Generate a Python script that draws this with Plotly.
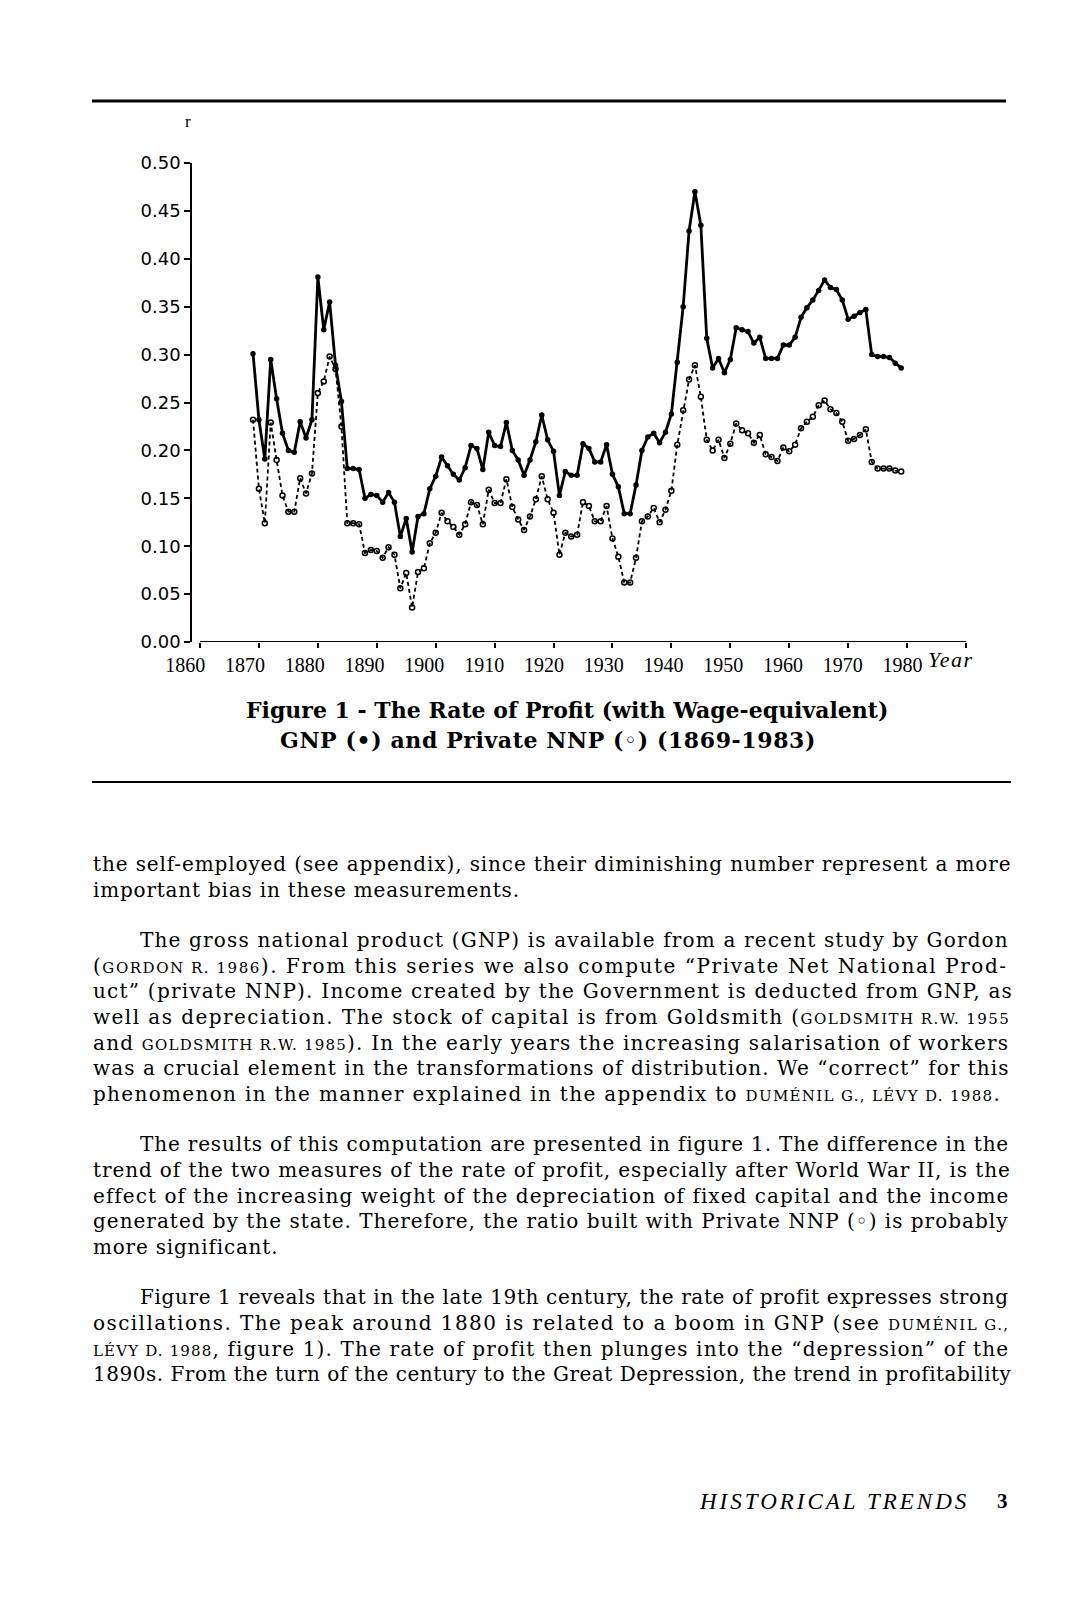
import plotly.graph_objects as go

# ---------------- data ----------------
years = list(range(1869, 1980))

gnp = [0.301, 0.232, 0.191, 0.295, 0.254, 0.218, 0.200, 0.198, 0.230, 0.213,
       0.232, 0.381, 0.326, 0.355, 0.289, 0.251, 0.181, 0.181, 0.180, 0.150,
       0.154, 0.153, 0.146, 0.156, 0.146, 0.110, 0.129, 0.094, 0.131, 0.134,
       0.160, 0.173, 0.193, 0.184, 0.175, 0.169, 0.182, 0.205, 0.202, 0.180,
       0.219, 0.205, 0.204, 0.229, 0.200, 0.190, 0.174, 0.190, 0.209, 0.237,
       0.211, 0.199, 0.153, 0.178, 0.174, 0.174, 0.207, 0.202, 0.188, 0.188,
       0.206, 0.175, 0.162, 0.134, 0.134, 0.164, 0.200, 0.214, 0.218, 0.208,
       0.219, 0.238, 0.292, 0.350, 0.429, 0.470, 0.435, 0.317, 0.286, 0.296,
       0.281, 0.295, 0.328, 0.326, 0.324, 0.312, 0.318, 0.296, 0.296, 0.296,
       0.310, 0.310, 0.318, 0.339, 0.349, 0.357, 0.367, 0.378, 0.370, 0.368,
       0.357, 0.337, 0.340, 0.344, 0.347, 0.300, 0.298, 0.298, 0.297, 0.291,
       0.286]

nnp = [0.232, 0.160, 0.124, 0.229, 0.190, 0.153, 0.136, 0.136, 0.171, 0.155,
       0.176, 0.260, 0.272, 0.298, 0.285, 0.225, 0.124, 0.124, 0.123, 0.093,
       0.096, 0.095, 0.088, 0.099, 0.091, 0.056, 0.072, 0.036, 0.073, 0.077,
       0.103, 0.114, 0.135, 0.126, 0.120, 0.112, 0.123, 0.146, 0.143, 0.123,
       0.159, 0.145, 0.145, 0.170, 0.141, 0.128, 0.117, 0.131, 0.149, 0.173,
       0.149, 0.135, 0.091, 0.114, 0.110, 0.112, 0.146, 0.142, 0.126, 0.126,
       0.142, 0.108, 0.089, 0.062, 0.062, 0.088, 0.126, 0.131, 0.140, 0.125,
       0.138, 0.158, 0.206, 0.242, 0.274, 0.289, 0.256, 0.211, 0.200, 0.211,
       0.192, 0.207, 0.228, 0.221, 0.218, 0.208, 0.216, 0.196, 0.193, 0.189,
       0.203, 0.199, 0.206, 0.223, 0.230, 0.235, 0.247, 0.252, 0.243, 0.239,
       0.230, 0.210, 0.212, 0.216, 0.222, 0.188, 0.181, 0.181, 0.181, 0.179,
       0.178]

x_tick_vals = [1860, 1870, 1880, 1890, 1900, 1910, 1920, 1930, 1940, 1950,
               1960, 1970, 1980, 1990]
x_label_vals = [1860, 1870, 1880, 1890, 1900, 1910, 1920, 1930, 1940, 1950,
                1960, 1970, 1980]
x_label_text = ["1860", "1870", "1880", "1890", "1900", "1910", "1920", "1930",
                "1940", "1950", "1960", "1970", "1980"]
y_tick_vals = [0.00, 0.05, 0.10, 0.15, 0.20, 0.25, 0.30, 0.35, 0.40, 0.45, 0.50]
y_tick_text = ["0.00", "0.05", "0.10", "0.15", "0.20", "0.25", "0.30", "0.35",
               "0.40", "0.45", "0.50"]

caption_lines = ["<b>Figure 1 - The Rate of Profit (with Wage-equivalent)</b>",
                 "<b>GNP (•) and Private NNP (◦) (1869-1983)</b>"]

SC = "<span style='font-size:15px'>"
# (indent, new paragraph, letter spacing px, text)
body_lines = [
    (False, False, 0.88, "the self-employed (see appendix), since their diminishing number represent a more"),
    (False, False, 0.80, "important bias in these measurements."),
    (True,  True,  1.17, "The gross national product (GNP) is available from a recent study by Gordon"),
    (False, False, 1.55, "(" + SC + "GORDON R. 1986</span>). From this series we also compute “Private Net National Prod-"),
    (False, False, 1.23, "uct” (private NNP). Income created by the Government is deducted from GNP, as"),
    (False, False, 1.45, "well as depreciation. The stock of capital is from Goldsmith (" + SC + "GOLDSMITH R.W. 1955</span>"),
    (False, False, 1.21, "and " + SC + "GOLDSMITH R.W. 1985</span>). In the early years the increasing salarisation of workers"),
    (False, False, 1.06, "was a crucial element in the transformations of distribution. We “correct” for this"),
    (False, False, 1.32, "phenomenon in the manner explained in the appendix to " + SC + "DUMÉNIL G., LÉVY D. 1988</span>."),
    (True,  True,  0.84, "The results of this computation are presented in figure 1. The difference in the"),
    (False, False, 0.90, "trend of the two measures of the rate of profit, especially after World War II, is the"),
    (False, False, 1.05, "effect of the increasing weight of the depreciation of fixed capital and the income"),
    (False, False, 1.00, "generated by the state. Therefore, the ratio built with Private NNP (◦) is probably"),
    (False, False, 0.80, "more significant."),
    (True,  True,  0.63, "Figure 1 reveals that in the late 19th century, the rate of profit expresses strong"),
    (False, False, 1.43, "oscillations. The peak around 1880 is related to a boom in GNP (see " + SC + "DUMÉNIL G.,</span>"),
    (False, False, 1.15, SC + "LÉVY D. 1988</span>, figure 1). The rate of profit then plunges into the “depression” of the"),
    (False, False, 0.51, "1890s. From the turn of the century to the Great Depression, the trend in profitability"),
]

# ---------------- geometry ----------------
OFF = 8                       # browser body margin
FIG_W, FIG_H = 1064, 1592
ML, MR, MT, MB = 150, 106, 155, 958
PW = FIG_W - ML - MR
PH = FIG_H - MT - MB
AX_L = 184                    # y axis position (figure px)
D0 = (AX_L - ML) / PW
X0 = 1860 - 8 / 5.892
# tick-label axis (own domain): 1860 label at fig 177.3, 1980 label at fig 894.5
LA, LB = 177.3, 894.5
LSC = (LB - LA) / 120
L0 = 1860 - (LA - ML) / LSC
L1 = 1980 + (FIG_W - MR - LB) / LSC


def pp(x, y):
    """page pixel -> paper coords"""
    fx, fy = x - OFF, y - OFF
    return (fx - ML) / PW, (FIG_H - MB - fy) / PH


fig = go.Figure()
fig.add_trace(go.Scatter(
    x=years, y=nnp, mode="lines+markers",
    line=dict(color="black", width=1.8, dash="4px,3px"),
    marker=dict(symbol="circle-open", size=5, color="black", line=dict(width=1.5)),
    name="Private NNP", cliponaxis=False))
fig.add_trace(go.Scatter(
    x=years, y=gnp, mode="lines+markers",
    line=dict(color="black", width=2.8),
    marker=dict(symbol="circle", size=5.5, color="black"),
    name="GNP", cliponaxis=False))
# empty trace that attaches the tick-label axis (draws nothing)
fig.add_trace(go.Scatter(
    x=x_label_vals, y=[None] * len(x_label_vals), xaxis="x2", yaxis="y",
    mode="markers", hoverinfo="skip", showlegend=False))

fig.update_layout(
    width=FIG_W, height=FIG_H, autosize=False,
    margin=dict(l=ML, r=MR, t=MT, b=MB, pad=0),
    paper_bgcolor="white", plot_bgcolor="rgba(0,0,0,0)", showlegend=False,
    xaxis=dict(domain=[D0, 1], range=[X0, 1990], tickvals=x_tick_vals,
               showticklabels=False,
               ticks="outside", ticklen=5, tickwidth=1.5, tickcolor="black",
               showgrid=False, zeroline=False, showline=False),
    xaxis2=dict(domain=[0, 1], range=[L0, L1], anchor="y",
                side="bottom", tickvals=x_label_vals, ticktext=x_label_text,
                ticks="outside", ticklen=5, tickcolor="rgba(0,0,0,0)",
                showgrid=False, zeroline=False, showline=False,
                tickfont=dict(family="Liberation Serif", size=20, color="black")),
    yaxis=dict(range=[0, 0.5], tickvals=y_tick_vals, ticktext=y_tick_text,
               anchor="x",
               ticks="outside", ticklen=6, tickwidth=1.5, tickcolor="black",
               showgrid=False, zeroline=False, showline=True, linewidth=1.5,
               linecolor="black",
               tickfont=dict(family="DejaVu Sans", size=18, color="black")),
)

# x axis line
fig.add_shape(type="line", xref="x", yref="y", x0=1860, x1=1990, y0=0, y1=0,
              line=dict(color="black", width=2))

# horizontal rules
for (xa, xb, yy, w) in [(92, 1006, 101, 3), (92, 1011, 782, 2)]:
    a = pp(xa, yy)
    b = pp(xb, yy)
    fig.add_shape(type="line", xref="paper", yref="paper",
                  x0=a[0], x1=b[0], y0=a[1], y1=b[1],
                  line=dict(color="black", width=w))


def ann(text, x, y, size, family, xanchor="left"):
    px_, py_ = pp(x, y)
    fig.add_annotation(text=text, x=px_, y=py_, xref="paper", yref="paper",
                       xanchor=xanchor, yanchor="middle", showarrow=False,
                       font=dict(family=family, size=size, color="black"))


ann("r", 183, 121, 17, "Liberation Serif")
ann("<span style='letter-spacing:1.5px'><i>Year</i></span>", 926, 659, 22, "Liberation Serif")
ann(caption_lines[0], 567, 710, 22, "DejaVu Serif", xanchor="center")
ann("<span style='letter-spacing:0.6px'>" + caption_lines[1] + "</span>", 548, 740, 22,
    "DejaVu Serif", xanchor="center")

y = 864.0
for i, (indent, newpar, ls, txt) in enumerate(body_lines):
    if i > 0:
        y += 25.7 + (24.5 if newpar else 0)
    ann("<span style='letter-spacing:%.2fpx'>" % ls + txt + "</span>",
        138 if indent else 91, y, 20, "DejaVu Serif")

ann("<span style='letter-spacing:3px'><i>HISTORICAL TRENDS</i></span>", 697, 1501, 23,
    "Liberation Serif")
ann("<b>3</b>", 995, 1501, 21, "Liberation Serif")

fig.write_html("out.html")
